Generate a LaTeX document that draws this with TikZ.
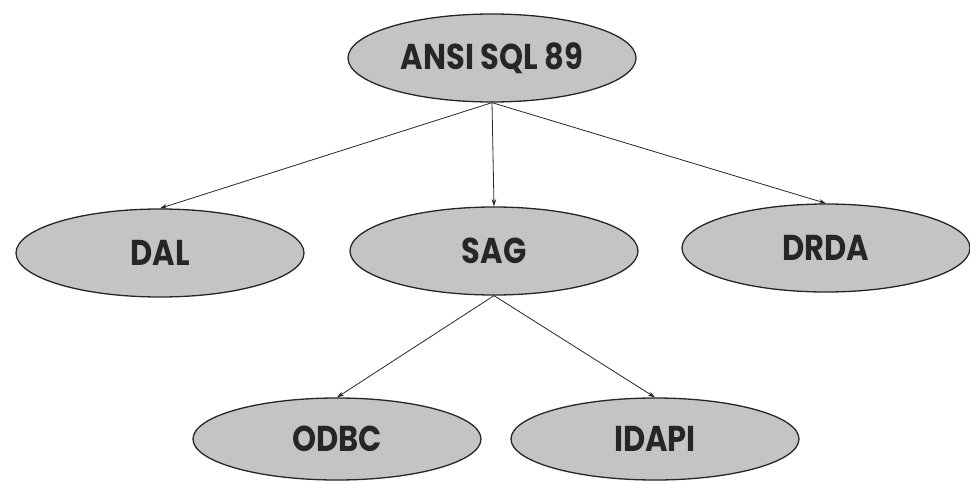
\documentclass[tikz,border=0pt]{standalone}
\usepackage{fontspec}
\usepackage[outline]{contour}
\usetikzlibrary{shapes.geometric,arrows.meta}
\newfontfamily\labelfont{Poppins}[FakeStretch=0.85]
\contourlength{1.2pt}
\definecolor{ovalfill}{HTML}{C4C4C4}
\definecolor{labelink}{HTML}{262626}
\tikzset{
  oval/.style={ellipse, draw=black!85, line width=1.3pt, fill=ovalfill,
    minimum width=288pt, minimum height=88pt, inner sep=0pt,
    font=\labelfont\bfseries\fontsize{36}{40}\selectfont, text=labelink},
  lowoval/.style={oval, minimum height=82pt},
  link/.style={draw=black!85, line width=0.8pt, -{Stealth[length=7pt,width=4.5pt]}}
}
\newcommand{\ovaltext}[1]{\contour{white}{#1}}
\begin{document}
\begin{tikzpicture}[x=1pt,y=1pt]
\useasboundingbox (0,0) rectangle (970,483);
\node[oval] (ansi)  at (492,425) {\ovaltext{ANSI SQL 89}};
\node[oval] (dal)   at (160,230) {\ovaltext{DAL}};
\node[oval] (sag)   at (494,232) {\ovaltext{SAG}};
\node[oval] (drda)  at (826,235) {\ovaltext{DRDA}};
\node[lowoval] (odbc)  at (337,44)  {\ovaltext{ODBC}};
\node[lowoval] (idapi) at (655,44)  {\ovaltext{IDAPI}};
\draw[link] (ansi.south) -- (dal.north);
\draw[link] (ansi.south) -- (sag.north);
\draw[link] (ansi.south) -- (drda.north);
\draw[link] (sag.south) -- (odbc.north);
\draw[link] (sag.south) -- (idapi.north);
\end{tikzpicture}
\end{document}
